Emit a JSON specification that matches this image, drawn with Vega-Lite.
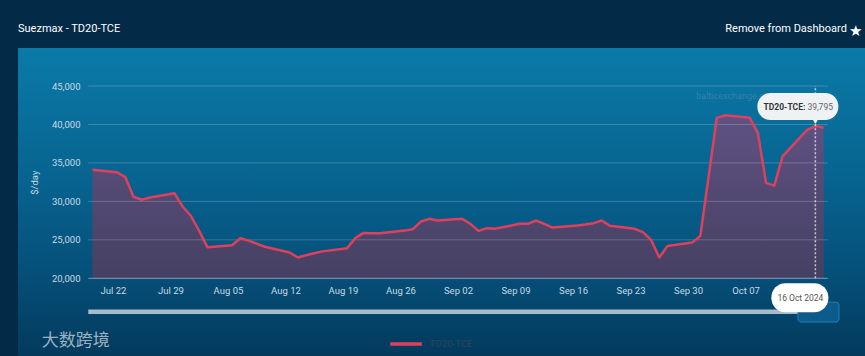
{
  "$schema": "https://vega.github.io/schema/vega-lite/v6.json",
  "width": 847,
  "height": 308,
  "autosize": {"type": "none"},
  "padding": {"left": 18, "top": 48, "right": 0, "bottom": 0},
  "background": "#032b48",
  "config": {
    "font": "Roboto",
    "view": {"stroke": null, "fill": {"gradient": "linear", "x1": 0, "y1": 0, "x2": 0, "y2": 1, "stops": [{"offset": 0, "color": "#0b7aa8"}, {"offset": 0.45, "color": "#07628e"}, {"offset": 0.75, "color": "#054e77"}, {"offset": 1, "color": "#033a5c"}]}}
  },
  "datasets": {
    "series": [
      {"date": "2024-07-19", "value": 34100},
      {"date": "2024-07-22", "value": 33780},
      {"date": "2024-07-23", "value": 33170},
      {"date": "2024-07-24", "value": 30600},
      {"date": "2024-07-25", "value": 30210},
      {"date": "2024-07-26", "value": 30500},
      {"date": "2024-07-29", "value": 31050},
      {"date": "2024-07-30", "value": 29300},
      {"date": "2024-07-31", "value": 28100},
      {"date": "2024-08-01", "value": 26150},
      {"date": "2024-08-02", "value": 24050},
      {"date": "2024-08-05", "value": 24300},
      {"date": "2024-08-06", "value": 25200},
      {"date": "2024-08-07", "value": 24900},
      {"date": "2024-08-08", "value": 24500},
      {"date": "2024-08-09", "value": 24100},
      {"date": "2024-08-12", "value": 23350},
      {"date": "2024-08-13", "value": 22700},
      {"date": "2024-08-14", "value": 23000},
      {"date": "2024-08-15", "value": 23260},
      {"date": "2024-08-16", "value": 23500},
      {"date": "2024-08-19", "value": 23910},
      {"date": "2024-08-20", "value": 25220},
      {"date": "2024-08-21", "value": 25900},
      {"date": "2024-08-22", "value": 25850},
      {"date": "2024-08-23", "value": 25870},
      {"date": "2024-08-26", "value": 26200},
      {"date": "2024-08-27", "value": 26390},
      {"date": "2024-08-28", "value": 27380},
      {"date": "2024-08-29", "value": 27730},
      {"date": "2024-08-30", "value": 27510},
      {"date": "2024-09-02", "value": 27735},
      {"date": "2024-09-03", "value": 27080},
      {"date": "2024-09-04", "value": 26170},
      {"date": "2024-09-05", "value": 26520},
      {"date": "2024-09-06", "value": 26430},
      {"date": "2024-09-09", "value": 27080},
      {"date": "2024-09-10", "value": 27080},
      {"date": "2024-09-11", "value": 27510},
      {"date": "2024-09-12", "value": 27070},
      {"date": "2024-09-13", "value": 26600},
      {"date": "2024-09-16", "value": 26860},
      {"date": "2024-09-17", "value": 27000},
      {"date": "2024-09-18", "value": 27170},
      {"date": "2024-09-19", "value": 27510},
      {"date": "2024-09-20", "value": 26820},
      {"date": "2024-09-23", "value": 26430},
      {"date": "2024-09-24", "value": 26000},
      {"date": "2024-09-25", "value": 25000},
      {"date": "2024-09-26", "value": 22700},
      {"date": "2024-09-27", "value": 24200},
      {"date": "2024-09-30", "value": 24640},
      {"date": "2024-10-01", "value": 25520},
      {"date": "2024-10-02", "value": 33200},
      {"date": "2024-10-03", "value": 40850},
      {"date": "2024-10-04", "value": 41200},
      {"date": "2024-10-07", "value": 40880},
      {"date": "2024-10-08", "value": 38900},
      {"date": "2024-10-09", "value": 32400},
      {"date": "2024-10-10", "value": 32050},
      {"date": "2024-10-11", "value": 35850},
      {"date": "2024-10-14", "value": 39300},
      {"date": "2024-10-15", "value": 39795},
      {"date": "2024-10-16", "value": 39560}
    ],
    "grid": [{"v": 20000}, {"v": 25000}, {"v": 30000}, {"v": 35000}, {"v": 40000}, {"v": 45000}],
    "tip": [{"series": "TD20-TCE", "name": "TD20-TCE:", "val": "39,795", "day": "16 Oct 2024", "value": 39795}]
  },
  "layer": [
    {
      "data": {"name": "series"},
      "mark": {"type": "area", "fill": {"gradient": "linear", "x1": 0, "y1": 0, "x2": 0, "y2": 1, "stops": [{"offset": 0, "color": "#5f5283"}, {"offset": 1, "color": "#454062"}]}},
      "encoding": {
        "x": {"field": "date", "type": "temporal", "timeUnit": "utcyearmonthdate", "bandPosition": 0.5, "title": null,
          "scale": {"domain": [{"year": 2024, "month": 7, "date": 19, "utc": true}, {"year": 2024, "month": 10, "date": 17, "utc": true}], "range": [70.3, 809.7]},
          "axis": {"values": [
            {"year": 2024, "month": 7, "date": 22, "utc": true}, {"year": 2024, "month": 7, "date": 29, "utc": true},
            {"year": 2024, "month": 8, "date": 5, "utc": true}, {"year": 2024, "month": 8, "date": 12, "utc": true},
            {"year": 2024, "month": 8, "date": 19, "utc": true}, {"year": 2024, "month": 8, "date": 26, "utc": true},
            {"year": 2024, "month": 9, "date": 2, "utc": true}, {"year": 2024, "month": 9, "date": 9, "utc": true},
            {"year": 2024, "month": 9, "date": 16, "utc": true}, {"year": 2024, "month": 9, "date": 23, "utc": true},
            {"year": 2024, "month": 9, "date": 30, "utc": true}, {"year": 2024, "month": 10, "date": 7, "utc": true}],
            "labelExpr": "utcFormat(datum.value, '%b %d')", "title": null, "offset": -77.7, "labelPadding": 7, "ticks": false, "domain": false, "grid": false,
            "labelColor": "#c9d9e4", "labelFontSize": 9.5, "labelFont": "Roboto", "labelOverlap": false}},
        "y": {"field": "value", "type": "quantitative",
          "scale": {"domain": [20000, 45000], "range": [230.3, 38], "nice": false, "zero": false},
          "axis": {"values": [20000, 25000, 30000, 35000, 40000, 45000], "labelExpr": "format(datum.value, ',')", "title": "$/day", "offset": -62, "labelPadding": 0, "ticks": false, "domain": false, "grid": false,
            "labelColor": "#c9d9e4", "labelFontSize": 9.5, "labelFont": "Roboto", "titleColor": "#c9d9e4", "titleFontSize": 9.5, "titleFontWeight": "normal", "titleFont": "Roboto", "titlePadding": 12}},
        "y2": {"datum": 20000}
      }
    },
    {
      "data": {"name": "grid"},
      "mark": {"type": "rule", "stroke": "#ffffff", "strokeWidth": 1},
      "encoding": {
        "x": {"datum": {"year": 2024, "month": 7, "date": 19, "utc": true}, "type": "temporal"},
        "x2": {"datum": {"year": 2024, "month": 10, "date": 17, "utc": true}},
        "y": {"field": "v", "type": "quantitative", "scale": {"domain": [20000, 45000], "range": [230.3, 38], "nice": false, "zero": false}},
        "strokeOpacity": {"condition": {"test": "datum.v === 20000", "value": 0.45}, "value": 0.2}
      }
    },
    {
      "data": {"name": "series"},
      "mark": {"type": "line", "strokeWidth": 2.5, "strokeJoin": "round"},
      "encoding": {
        "x": {"field": "date", "type": "temporal", "timeUnit": "utcyearmonthdate", "bandPosition": 0.5, "title": null},
        "y": {"field": "value", "type": "quantitative"},
        "color": {"datum": "TD20-TCE", "type": "nominal", "scale": {"range": ["#e0405c"]},
          "legend": {"orient": "none", "legendX": 370, "legendY": 278, "direction": "horizontal", "title": null, "symbolType": "stroke", "symbolStrokeWidth": 3.5, "symbolSize": 1000, "symbolStrokeColor": "#c85a78", "labelColor": "#2a4762", "labelFontSize": 9.5, "labelFont": "Roboto", "labelOffset": 6}}
      }
    },
    {
      "data": {"name": "tip"},
      "mark": {"type": "text", "text": "balticexchange.com", "align": "left", "baseline": "middle", "fontSize": 9, "color": "#4f8fb5", "opacity": 0.6},
      "encoding": {
        "x": {"datum": {"year": 2024, "month": 10, "date": 1, "utc": true}, "type": "temporal"},
        "y": {"datum": 43650}
      }
    },
    {
      "data": {"name": "tip"},
      "mark": {"type": "rule", "stroke": "#ffffff", "strokeOpacity": 0.7, "strokeWidth": 1.5, "strokeDash": [2, 2]},
      "encoding": {
        "x": {"datum": {"year": 2024, "month": 10, "date": 15, "hours": 12, "utc": true}, "type": "temporal"},
        "y": {"datum": 20000},
        "y2": {"datum": 45000}
      }
    },
    {
      "data": {"name": "tip"},
      "mark": {"type": "rect", "fill": "#eef2f5", "cornerRadius": 13, "xOffset": -58, "x2Offset": 23, "yOffset": -33, "y2Offset": -6},
      "encoding": {
        "x": {"datum": {"year": 2024, "month": 10, "date": 15, "hours": 12, "utc": true}, "type": "temporal"},
        "x2": {"datum": {"year": 2024, "month": 10, "date": 15, "hours": 12, "utc": true}},
        "y": {"field": "value", "type": "quantitative"},
        "y2": {"field": "value"}
      }
    },
    {
      "data": {"name": "tip"},
      "mark": {"type": "point", "shape": "triangle-down", "filled": true, "fill": "#eef2f5", "opacity": 1, "size": 45, "yOffset": -5},
      "encoding": {
        "x": {"datum": {"year": 2024, "month": 10, "date": 15, "hours": 12, "utc": true}, "type": "temporal"},
        "y": {"field": "value", "type": "quantitative"}
      }
    },
    {
      "data": {"name": "tip"},
      "mark": {"type": "text", "align": "right", "baseline": "middle", "fontSize": 8.5, "fontWeight": "bold", "color": "#333333", "dx": -10, "dy": -19.5},
      "encoding": {
        "x": {"datum": {"year": 2024, "month": 10, "date": 15, "hours": 12, "utc": true}, "type": "temporal"},
        "y": {"field": "value", "type": "quantitative"},
        "text": {"field": "name"}
      }
    },
    {
      "data": {"name": "tip"},
      "mark": {"type": "text", "align": "left", "baseline": "middle", "fontSize": 8.5, "color": "#666666", "dx": -8, "dy": -19.5},
      "encoding": {
        "x": {"datum": {"year": 2024, "month": 10, "date": 15, "hours": 12, "utc": true}, "type": "temporal"},
        "y": {"field": "value", "type": "quantitative"},
        "text": {"field": "val"}
      }
    },
    {
      "data": {"name": "tip"},
      "mark": {"type": "rule", "stroke": "#a7bccb", "strokeWidth": 4.5},
      "encoding": {
        "x": {"datum": {"year": 2024, "month": 7, "date": 19, "utc": true}, "type": "temporal"},
        "x2": {"datum": {"year": 2024, "month": 10, "date": 13, "hours": 9, "utc": true}},
        "y": {"datum": 15650}
      }
    },
    {
      "data": {"name": "tip"},
      "mark": {"type": "rect", "fill": "#0c5b8a", "stroke": "#2180b8", "strokeWidth": 1, "cornerRadius": 3},
      "encoding": {
        "x": {"datum": {"year": 2024, "month": 10, "date": 13, "hours": 9, "utc": true}, "type": "temporal"},
        "x2": {"datum": {"year": 2024, "month": 10, "date": 18, "hours": 9, "utc": true}},
        "y": {"datum": 16900},
        "y2": {"datum": 14320}
      }
    },
    {
      "data": {"name": "tip"},
      "mark": {"type": "rect", "fill": "#ffffff", "cornerRadius": 14, "xOffset": -44, "x2Offset": 13, "yOffset": 5, "y2Offset": 34},
      "encoding": {
        "x": {"datum": {"year": 2024, "month": 10, "date": 15, "hours": 12, "utc": true}, "type": "temporal"},
        "x2": {"datum": {"year": 2024, "month": 10, "date": 15, "hours": 12, "utc": true}},
        "y": {"datum": 20000},
        "y2": {"datum": 20000}
      }
    },
    {
      "data": {"name": "tip"},
      "mark": {"type": "text", "align": "center", "baseline": "middle", "fontSize": 8.5, "color": "#555555", "dx": -15, "dy": 20},
      "encoding": {
        "x": {"datum": {"year": 2024, "month": 10, "date": 15, "hours": 12, "utc": true}, "type": "temporal"},
        "y": {"datum": 20000},
        "text": {"field": "day"}
      }
    },
    {
      "data": {"name": "tip"},
      "mark": {"type": "text", "text": "Suezmax - TD20-TCE", "align": "left", "baseline": "middle", "fontSize": 11, "color": "#ffffff"},
      "encoding": {
        "x": {"datum": {"year": 2024, "month": 7, "date": 10, "hours": 10, "minutes": 40, "utc": true}, "type": "temporal"},
        "y": {"datum": 52400}
      }
    },
    {
      "data": {"name": "tip"},
      "mark": {"type": "text", "text": "Remove from Dashboard", "align": "right", "baseline": "middle", "fontSize": 11, "color": "#ffffff"},
      "encoding": {
        "x": {"datum": {"year": 2024, "month": 10, "date": 19, "hours": 8, "utc": true}, "type": "temporal"},
        "y": {"datum": 52400}
      }
    },
    {
      "data": {"name": "tip"},
      "mark": {"type": "text", "text": "★", "align": "center", "baseline": "middle", "fontSize": 15, "font": "DejaVu Sans", "color": "#ffffff"},
      "encoding": {
        "x": {"datum": {"year": 2024, "month": 10, "date": 20, "hours": 10, "utc": true}, "type": "temporal"},
        "y": {"datum": 52200}
      }
    },
    {
      "data": {"name": "tip"},
      "mark": {"type": "text", "text": "大数跨境", "align": "left", "baseline": "middle", "fontSize": 17, "font": "Noto Sans CJK SC", "color": "#d0d8e0", "opacity": 0.75},
      "encoding": {
        "x": {"datum": {"year": 2024, "month": 7, "date": 13, "hours": 8, "utc": true}, "type": "temporal"},
        "y": {"datum": 11850}
      }
    }
  ]
}
